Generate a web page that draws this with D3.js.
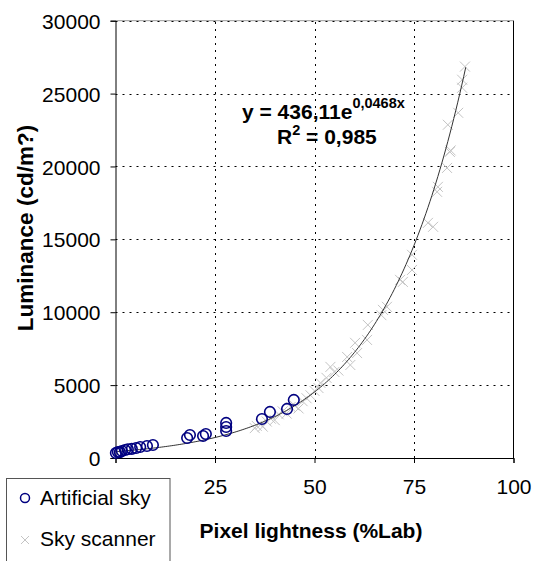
<!DOCTYPE html>
<html><head><meta charset="utf-8">
<script src="https://cdn.jsdelivr.net/npm/d3@7"></script>
<style>body{margin:0;background:#fff}svg{display:block}text{font-family:"Liberation Sans",Arial,sans-serif}</style>
</head><body>
<script>
const xTicks=[0,25,50,75,100];
const yTicks=[0,5000,10000,15000,20000,25000,30000];
const seriesNames=["Artificial sky","Sky scanner"];
const artificialSky=[[0.1,343],[0.6,412],[1.1,400],[1.6,480],[2.4,549],[3.1,600],[4.1,630],[5.2,686],[6.2,755],[7.9,824],[9.4,892],[18.0,1373],[18.7,1579],[22.0,1510],[22.7,1648],[27.8,1853],[27.8,2128],[27.8,2403],[36.8,2677],[38.8,3158],[43.1,3364],[44.8,3982]];
const skyScanner=[[35,2050],[35.5,2200],[36.5,2300],[37,2150],[38,2500],[39,2700],[40,2600],[41,3000],[42,3200],[43,3050],[44,3500],[45,3600],[46,3400],[47,3900],[48,4100],[49,4300],[50,4600],[51,4800],[51.5,5150],[53,5500],[54,6250],[55,5900],[56,6000],[58.2,6930],[59,6380],[60.2,7900],[60.7,7200],[63.2,8100],[63.4,9130],[66.8,9800],[67.2,10160],[68.2,10370],[71.5,12220],[72.2,12080],[74.5,12900],[74.5,13940],[78.5,16130],[79.8,15860],[80.8,18260],[81,18600],[83.3,19900],[83.5,22860],[84,21000],[84.2,21100],[86.1,23680],[87.1,25400],[87.1,25950],[87.8,26850]];
const fitA=436.11, fitB=0.0468, fitXMax=88;
const fitX=d3.range(0,fitXMax+0.001,0.5);

const W=539,H=561,FS=21;
const svg=d3.select("body").append("svg").attr("width",W).attr("height",H);
const x=d3.scaleLinear().domain([0,100]).range([115.5,513.5]);
const y=d3.scaleLinear().domain([0,30000]).range([458,20.7]);

// gridlines
const g=svg.append("g");
g.append("line").attr("x1",x(0)).attr("x2",x(100)).attr("y1",y(30000)).attr("y2",y(30000)).attr("stroke","#999").attr("stroke-width",1);
g.selectAll(".hg").data(yTicks.filter(d=>d>0)).join("line")
 .attr("x1",x(0)).attr("x2",x(100)).attr("y1",d=>Math.round(y(d))+0.5).attr("y2",d=>Math.round(y(d))+0.5)
 .attr("stroke","#000").attr("stroke-dasharray","2,5").attr("stroke-width",1);
g.selectAll(".vg").data(xTicks.filter(d=>d>0&&d<100)).join("line")
 .attr("x1",d=>Math.round(x(d))+0.5).attr("x2",d=>Math.round(x(d))+0.5).attr("y1",y(0)).attr("y2",y(30000))
 .attr("stroke","#000").attr("stroke-dasharray","2,5").attr("stroke-width",1);
svg.append("line").attr("x1",x(100)).attr("x2",x(100)).attr("y1",y(0)).attr("y2",y(30000)).attr("stroke","#000");

// axes
const yAxis=svg.append("g").attr("transform",`translate(${x(0)},0)`)
 .call(d3.axisLeft(y).tickValues(yTicks).tickSize(5).tickPadding(10).tickFormat(d3.format("d")));
const xAxis=svg.append("g").attr("transform",`translate(0,${y(0)})`)
 .call(d3.axisBottom(x).tickValues(xTicks).tickSize(5).tickPadding(16).tickFormat(d=>d===0?"":d));
[yAxis,xAxis].forEach(a=>{a.select(".domain").attr("stroke","#000");a.selectAll(".tick line").attr("stroke","#000");
 a.selectAll("text").attr("font-size",FS).attr("fill","#000").attr("font-family",'"Liberation Sans",Arial,sans-serif');});
yAxis.selectAll("text").attr("dy","0.36em");

// sky scanner crosses
const cs=5;
const sc=svg.append("g").attr("stroke","#c4c4c4").attr("stroke-width",1);
sc.selectAll("path").data(skyScanner).join("path")
 .attr("d",d=>{const px=x(d[0]),py=y(d[1]);return `M${px-cs},${py-cs}L${px+cs},${py+cs}M${px-cs},${py+cs}L${px+cs},${py-cs}`;});

// fit curve
svg.append("path").datum(fitX).attr("fill","none").attr("stroke","#333").attr("stroke-width",1)
 .attr("d",d3.line().x(d=>x(d)).y(d=>y(fitA*Math.exp(fitB*d))));

// artificial sky circles
svg.append("g").selectAll("circle").data(artificialSky).join("circle")
 .attr("cx",d=>x(d[0])).attr("cy",d=>y(d[1])).attr("r",5.3)
 .attr("fill","none").attr("stroke","#000080").attr("stroke-width",1.6);

// equation
const eq=svg.append("text").attr("x",242).attr("y",119).attr("font-weight","bold").attr("font-size",FS);
eq.append("tspan").text("y = 436,11e");
eq.append("tspan").attr("font-size",14.5).attr("dy",-11).text("0,0468x");
const r2=svg.append("text").attr("x",277).attr("y",144).attr("font-weight","bold").attr("font-size",FS);
r2.append("tspan").text("R");
r2.append("tspan").attr("font-size",14.5).attr("dy",-9).text("2");
r2.append("tspan").attr("dy",9).text(" = 0,985");

// axis titles
svg.append("text").attr("x",311).attr("y",538).attr("text-anchor","middle").attr("font-weight","bold").attr("font-size",FS).text("Pixel lightness (%Lab)");
svg.append("text").attr("transform","translate(33,228) rotate(-90)").attr("text-anchor","middle").attr("font-weight","bold").attr("font-size",22.5)
 .text("Luminance (cd/m?)");

// legend
const lg=svg.append("g");
lg.append("rect").attr("x",6.5).attr("y",478.5).attr("width",163.5).attr("height",90).attr("fill","#fff").attr("stroke","#555");
lg.append("circle").attr("cx",25).attr("cy",498).attr("r",4.5).attr("fill","none").attr("stroke","#000080").attr("stroke-width",1.5);
lg.append("path").attr("d","M21,536L29,544M21,544L29,536").attr("stroke","#c4c4c4");
lg.selectAll("text").data(seriesNames).join("text").attr("x",40).attr("y",(d,i)=>505+i*41).attr("font-size",FS).text(d=>d);
</script>
</body></html>
